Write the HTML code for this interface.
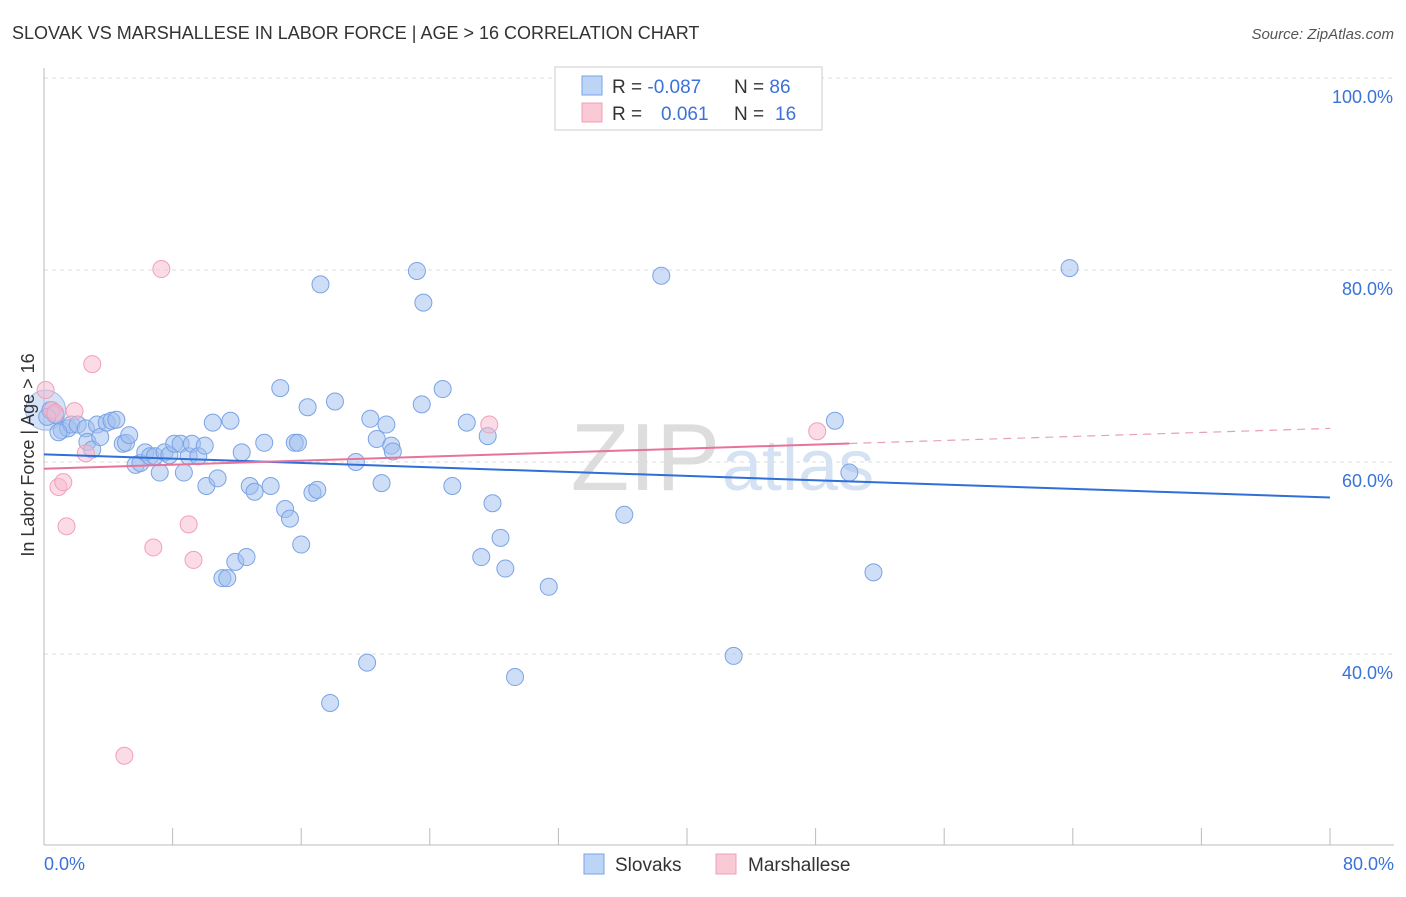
<!DOCTYPE html>
<html><head><meta charset="utf-8"><style>
body{margin:0;background:#fff;font-family:"Liberation Sans",sans-serif;}
svg text{font-family:"Liberation Sans",sans-serif;}
</style></head><body>
<svg width="1406" height="892" xmlns="http://www.w3.org/2000/svg">
<text x="12" y="39" font-size="18" fill="#333">SLOVAK VS MARSHALLESE IN LABOR FORCE | AGE &gt; 16 CORRELATION CHART</text>
<text x="1394" y="39" font-size="15" fill="#555" font-style="italic" text-anchor="end">Source: ZipAtlas.com</text>
<g id="grid"></g>
<g id="axes"></g>
<text x="720" y="490" font-size="96" fill="#ddd" text-anchor="end" font-family="Liberation Serif">ZIP</text>
<text x="722" y="490" font-size="72" fill="#d5e2f3">atlas</text>
<g id="pts"></g>
<g id="lines"></g>
<text x="34" y="455" font-size="18" fill="#333" text-anchor="middle" transform="rotate(-90 34 455)">In Labor Force | Age &gt; 16</text>
<g>
<rect x="555" y="67" width="267" height="63" fill="#fff" stroke="#ccc"/>
<rect x="582" y="76" width="20" height="19" fill="#bcd4f6" stroke="#7aa3e5"/>
<rect x="582" y="103" width="20" height="19" fill="#f9c9d6" stroke="#f0a0b8"/>
<text x="612" y="93" font-size="19" fill="#333">R = <tspan fill="#3a72d8">-0.087</tspan><tspan x="734">N = </tspan><tspan fill="#3a72d8">86</tspan></text>
<text x="612" y="120" font-size="19" fill="#333">R = <tspan x="661" fill="#3a72d8">0.061</tspan><tspan x="734">N = </tspan><tspan x="775" fill="#3a72d8">16</tspan></text>
</g>
<g>
<rect x="584" y="854" width="20" height="20" fill="#bcd4f6" stroke="#7aa3e5"/>
<text x="615" y="871" font-size="19" fill="#333">Slovaks</text>
<rect x="716" y="854" width="20" height="20" fill="#f9c9d6" stroke="#f0a0b8"/>
<text x="748" y="871" font-size="19" fill="#333">Marshallese</text>
</g>
</svg>
<script>
const blueX=[0.4,0.7,1.1,1.5,1.7,2.1,2.6,2.7,3.0,3.3,3.5,3.9,4.2,4.5,4.9,5.1,5.3,5.7,6.0,6.3,6.6,6.9,7.2,7.5,7.8,8.1,8.5,8.7,9.0,9.2,9.6,10.0,10.1,10.5,10.8,11.1,11.4,11.6,11.9,12.3,12.6,12.8,13.1,13.7,14.1,14.7,15.0,15.3,15.6,15.8,16.0,16.4,16.7,17.0,17.2,18.1,19.4,20.1,20.3,20.7,21.0,21.3,21.6,21.7,23.2,23.5,23.6,24.8,25.4,26.3,27.2,27.6,27.9,28.4,28.7,29.3,31.4,36.1,38.4,42.9,49.2,50.1,51.6,63.8,17.8,0.2,0.9];
const blueY=[65.4,64.9,63.3,63.5,63.9,63.9,63.5,62.1,61.3,63.9,62.6,64.1,64.3,64.4,61.9,62.0,62.8,59.7,59.9,61.0,60.6,60.6,58.9,61.0,60.7,61.9,61.9,58.9,60.6,61.9,60.6,61.7,57.5,64.1,58.3,47.9,47.9,64.3,49.6,61.0,50.1,57.5,56.9,62.0,57.5,67.7,55.1,54.1,62.0,62.0,51.4,65.7,56.8,57.1,78.5,66.3,60.0,39.1,64.5,62.4,57.8,63.9,61.7,61.1,79.9,66.0,76.6,67.6,57.5,64.1,50.1,62.7,55.7,52.1,48.9,37.6,47.0,54.5,79.4,39.8,64.3,58.9,48.5,80.2,34.9,64.7,63.1];
const pinkX=[0.1,0.5,0.9,1.2,1.4,1.9,2.6,3.0,5.0,6.8,7.3,9.0,9.3,27.7,48.1,0.7];
const pinkY=[67.5,65.4,57.4,57.9,53.3,65.3,60.9,70.2,29.4,51.1,80.1,53.5,49.8,63.9,63.2,65.1];
const blueTrend=[60.8,56.3];   // y at x=0 and x=80
const pinkTrend=[59.3,63.5];   // y at x=0 and x=80
const pinkSolidEnd=50.1;
const yTicks=[100,80,60,40];
const yTickLabels=["100.0%","80.0%","60.0%","40.0%"];
const xTicks=[0,8,16,24,32,40,48,56,64,72,80];
const NS="http://www.w3.org/2000/svg";
const sx=v=>44+v/80*1286, sy=v=>78+(100-v)*9.6;
function mk(t,a,p){const e=document.createElementNS(NS,t);for(const k in a)e.setAttribute(k,a[k]);p.appendChild(e);return e;}
const grid=document.getElementById('grid'),axes=document.getElementById('axes');
yTicks.forEach((t,i)=>{
 const l=mk('line',{x1:44,x2:1394,y1:sy(t),y2:sy(t),stroke:'#ddd','stroke-dasharray':'4 4'},grid);
 
 
 const tx=mk('text',{x:1393,y:sy(t)+25,'font-size':18,fill:'#3a72d8','text-anchor':'end'},axes);
 tx.textContent=yTickLabels[i];
 
 
});
const ya=mk('line',{x1:44,x2:44,y1:68,y2:845,stroke:'#bbb'},axes);


const xa=mk('line',{x1:44,x2:1394,y1:845,y2:845,stroke:'#bbb'},axes);


xTicks.forEach(t=>{const l=mk('line',{x1:sx(t),x2:sx(t),y1:828,y2:845,stroke:'#bbb'},axes);
 
 });
const x0=mk('text',{x:44,y:870,'font-size':18,fill:'#3a72d8'},axes);x0.textContent='0.0%';


const x1=mk('text',{x:1394,y:870,'font-size':18,fill:'#3a72d8','text-anchor':'end'},axes);x1.textContent='80.0%';


const pts=document.getElementById('pts');
const big=mk('circle',{cx:sx(0.1),cy:sy(65.4),r:20,fill:'rgba(160,190,240,0.45)',stroke:'#9dbbeb'},pts);


blueX.forEach((x,i)=>{const c=mk('circle',{cx:sx(x),cy:sy(blueY[i]),r:8.5,fill:'rgba(160,190,240,0.5)',stroke:'#7aa3e5','stroke-width':1},pts);
 
 });
pinkX.forEach((x,i)=>{const c=mk('circle',{cx:sx(x),cy:sy(pinkY[i]),r:8.5,fill:'rgba(248,185,205,0.5)',stroke:'#f0a0b8','stroke-width':1},pts);
 
 });
const lines=document.getElementById('lines');
const bl=mk('line',{x1:sx(0),y1:sy(blueTrend[0]),x2:sx(80),y2:sy(blueTrend[1]),stroke:'#2f6fd8','stroke-width':2},lines);


const py=x=>pinkTrend[0]+(pinkTrend[1]-pinkTrend[0])*x/80;
const pl=mk('line',{x1:sx(0),y1:sy(py(0)),x2:sx(pinkSolidEnd),y2:sy(py(pinkSolidEnd)),stroke:'#e8739a','stroke-width':2},lines);


const pd=mk('line',{x1:sx(pinkSolidEnd),y1:sy(py(pinkSolidEnd)),x2:sx(80),y2:sy(py(80)),stroke:'#e8a0b8','stroke-width':1.2,'stroke-dasharray':'8 6'},lines);


</script>
</body></html>
